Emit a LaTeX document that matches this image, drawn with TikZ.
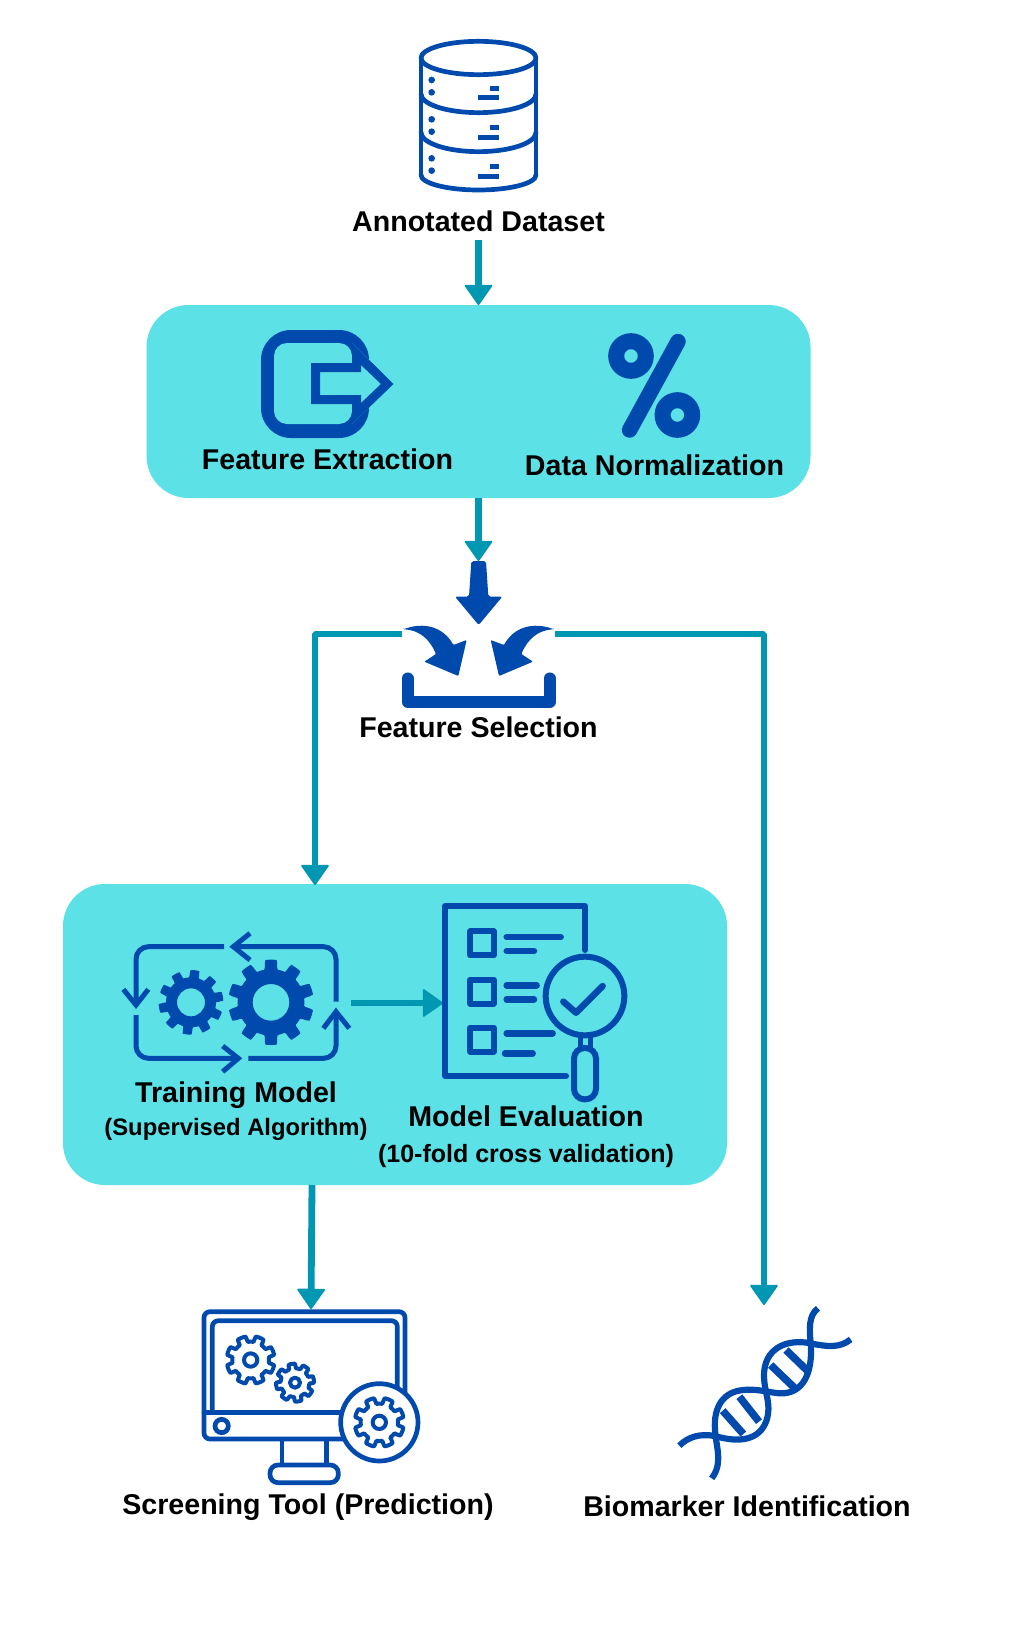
\documentclass[tikz,border=0pt]{standalone}
\usepackage{fontspec}
\setmainfont{Liberation Sans}
\usetikzlibrary{arrows.meta,calc}
\definecolor{panelc}{HTML}{5CE1E6}
\definecolor{tealc}{HTML}{0097B2}
\definecolor{bluec}{HTML}{004AAD}
\tikzset{
  panel/.style={fill=panelc,rounded corners=42pt,inner sep=0pt,outer sep=0pt},
  lbl/.style={anchor=base,inner sep=0pt,outer sep=0pt,font=\bfseries\fontsize{28.6}{32}\selectfont,text=black},
  sublbl/.style={anchor=base,inner sep=0pt,outer sep=0pt,font=\bfseries\fontsize{23.8}{28}\selectfont,text=black},
  conn/.style={draw=tealc,line width=6.8pt,line join=bevel,-{Triangle[round,length=21pt,width=29pt,line width=2pt]}},
  ico/.style={draw=bluec,line cap=round,line join=round},
  zoomA/.style={shift={(340,20)},x=1/3*1pt,y=-1/3*1pt},
  zoomB/.style={shift={(300,490)},x=1/3*1pt,y=-1/3*1pt},
  zoomBm/.style={shift={(657.33,490)},x=-1/3*1pt,y=-1/3*1pt},
  zoomC/.style={shift={(90,890)},x=1/3*1pt,y=-1/3*1pt},
  zoomD/.style={shift={(370,890)},x=1/3*1pt,y=-1/3*1pt},
  zoomE/.style={shift={(180,1290)},x=1/3*1pt,y=-1/3*1pt},
  zoomF/.style={shift={(660,1280)},x=1/3*1pt,y=-1/3*1pt},
}
\newcommand\mygear[8]{%
  \draw[#1,declare function={gp(\t)=abs(2*(mod(\t+#7+3600,360/#6)/(360/#6))-1);
      gr(\t)=#5+(#4-#5)*min(1,max(0,(gp(\t)-0.4)/0.15));}]
    plot[variable=\t,domain=0:360,samples=241] ({#2+gr(\t)*cos(\t)},{#3+gr(\t)*sin(\t)}) -- cycle
    (#2,#3) circle[radius=#8];
}
\newcommand\dbband[2]{%
  \draw[ico,line width=4.7pt] (243,#1) .. controls (243,#1+0.552*#2) and (320.3,#1+#2) .. (415.5,#1+#2) .. controls (510.7,#1+#2) and (588,#1+0.552*#2) .. (588,#1);
}
\begin{document}
\begin{tikzpicture}[x=1pt,y=-1pt]
\useasboundingbox (0,0) rectangle (1026,1640);
\fill[white] (0,0) rectangle (1026,1640);

% panels
\node[panel,minimum width=664pt,minimum height=193pt] (panelA) at (478.5,401.5) {};
\node[panel,minimum width=664pt,minimum height=301pt] (panelB) at (395,1034.5) {};

% labels
\node[lbl] (lblDataset) at (478.5,231) {Annotated Dataset};
\node[lbl] (lblExtract) at (327.5,469) {Feature Extraction};
\node[lbl] (lblNorm) at (654.5,475) {Data Normalization};
\node[lbl] (lblSelect) at (478.5,737) {Feature Selection};
\node[lbl] (lblTrain) at (236,1102) {Training Model};
\node[sublbl] (lblSuper) at (236,1135.5) {(Supervised Algorithm)};
\node[lbl] (lblEval) at (526,1126) {Model Evaluation};
\node[sublbl,font=\bfseries\fontsize{25}{28}\selectfont] (lblCross) at (526,1162) {(10-fold cross validation)};
\node[lbl] (lblScreen) at (308,1514) {Screening Tool (Prediction)};
\node[lbl] (lblBio) at (747,1516.5) {Biomarker Identification};

% connector ends
\coordinate (selectIn) at (478.5,561);
\coordinate (selectL) at (402,634);
\coordinate (selectR) at (555,634);
\coordinate (trainIn) at (315,885);
\coordinate (bioIn) at (764,1305);
\coordinate (trainOut) at (351,1003);
\coordinate (evalIn) at (443,1003);
\coordinate (panelOut) at (312,1185);
\coordinate (screenIn) at (311,1309);

\draw[conn] (lblDataset.south |- 0,240) -- (panelA.north);
\draw[conn] (panelA.south) -- (selectIn);
\draw[conn] (selectL) -| (trainIn);
\draw[conn] (selectR) -| (bioIn);
\draw[conn] (trainOut) -- (evalIn);
\draw[conn] (panelOut) -- (screenIn);

% database icon
\begin{scope}[zoomA]
  \draw[ico,line width=4.7pt] (415.5,114) ellipse[x radius=172.5,y radius=50];
  \draw[ico,line width=4.7pt] (243,114) -- (243,465);
  \draw[ico,line width=4.7pt] (588,114) -- (588,465);
  \dbband{222}{56}
  \dbband{337}{58}
  \dbband{465}{45}
  \foreach \dy in {0,118,235}{
    \fill[bluec] (275,180+\dy) circle[radius=10];
    \fill[bluec] (275,217+\dy) circle[radius=10];
    \fill[bluec] (450,198+\dy) rectangle (477,213+\dy);
    \fill[bluec] (415,226+\dy) rectangle (477,241+\dy);
  }
\end{scope}

% feature extraction icon
\fill[bluec] (261,330) [rounded corners=30pt] rectangle (369,438);
\fill[panelc] (274,343) [rounded corners=13pt] rectangle (352,424);
\fill[panelc] (311,363) -- (352,363) -- (352,343) -- (393.5,384) -- (352,424) -- (352,404) -- (311,404) -- cycle;
\fill[bluec,even odd rule] (311,363) -- (352,363) -- (352,343) -- (393.5,384) -- (352,424) -- (352,404) -- (311,404) -- cycle
  (320,372) -- (361,372) -- (361,365) -- (381,384) -- (361,403) -- (361,395) -- (320,395) -- cycle;

% percent icon
\draw[bluec,line width=16pt] (631,356) circle[radius=14.8];
\draw[bluec,line width=16pt] (677.4,415) circle[radius=14.8];
\draw[bluec,line width=15.5pt,line cap=round] (678,341.5) -- (629.6,430);

% feature selection icon
\begin{scope}[zoomB]
  \fill[bluec,rounded corners=2pt] (514,213) -- (558,213) -- (565,320) -- (607,320) -- (536,405) -- (465,320) -- (507,320) -- cycle;
  \fill[bluec,rounded corners=1pt] (310,418) .. controls (370,395) and (430,410) .. (460,465) -- (500,450) -- (475,558) -- (373,515) -- (408,492) .. controls (390,450) and (360,420) .. (310,418) -- cycle;
  \draw[ico,line width=11.7pt] (323,565) -- (323,636) -- (749,636) -- (749,565);
\end{scope}
\begin{scope}[zoomBm]
  \fill[bluec,rounded corners=1pt] (310,418) .. controls (370,395) and (430,410) .. (460,465) -- (500,450) -- (475,558) -- (373,515) -- (408,492) .. controls (390,450) and (360,420) .. (310,418) -- cycle;
\end{scope}

% training icon
\begin{scope}[zoomC]
  \mygear{fill=bluec,even odd rule,draw=none}{543}{337}{128}{100}{10}{18}{55}
  \mygear{fill=bluec,even odd rule,draw=none}{303}{337}{97}{75}{10}{11}{42}
  \begin{scope}[line width=5pt]
    \draw[bluec,rounded corners=12.5pt] (402,170) -- (138,170) -- (138,345);
    \draw[bluec] (100,298) -- (138,345) -- (175,298);
    \draw[bluec,rounded corners=12.5pt] (138,375) -- (138,505) -- (445,505);
    \draw[bluec] (398,468) -- (445,505) -- (398,545);
    \draw[bluec,rounded corners=12.5pt] (475,505) -- (738,505) -- (738,365);
    \draw[bluec] (700,415) -- (738,365) -- (778,415);
    \draw[bluec,rounded corners=12.5pt] (738,335) -- (738,170) -- (430,170);
    \draw[bluec] (480,130) -- (430,170) -- (480,210);
  \end{scope}
\end{scope}

% evaluation icon
\begin{scope}[zoomD]
  \draw[ico,line width=6pt] (645,180) -- (645,48) -- (226,48) -- (226,558) -- (588,558);
  \foreach \yy in {124,269,413}{
    \draw[ico,line width=6pt] (301,\yy) rectangle (371,\yy+72);
  }
  \draw[ico,line width=6.5pt] (410,141) -- (572,141);
  \draw[ico,line width=6.5pt] (410,183) -- (492,183);
  \draw[ico,line width=6.5pt] (410,286) -- (500,286);
  \draw[ico,line width=6.5pt] (410,328) -- (492,328);
  \draw[ico,line width=6.5pt] (410,430) -- (548,430);
  \draw[ico,line width=6.5pt] (405,490) -- (488,490);
  \draw[bluec,line width=6pt] (645,318) circle[radius=118];
  \draw[ico,line width=6.5pt] (580,335) -- (618,368) -- (698,288);
  \draw[bluec,line width=5pt] (630,436) -- (630,474) (660,436) -- (660,474);
  \draw[bluec,line width=6pt,rounded corners=10.5pt] (612,474) rectangle (678,628);
\end{scope}

% screening icon
\begin{scope}[zoomE]
  \draw[ico,line width=4.7pt,rounded corners=6pt] (490,447) -- (72,447) -- (72,65) -- (675,65) -- (675,320);
  \draw[ico,line width=4.7pt,rounded corners=6pt] (97,367) -- (97,92) -- (652,92) -- (652,310);
  \draw[ico,line width=4.7pt] (72,367) -- (490,367);
  \draw[bluec,line width=4.7pt] (125,408) circle[radius=20];
  \draw[bluec,line width=4.7pt] (306,450) -- (306,525) (440,450) -- (440,525);
  \draw[bluec,line width=4.7pt,rounded corners=8pt] (270,525) rectangle (475,578);
  \mygear{draw=bluec,line width=4pt,line join=round}{212}{210}{72}{55}{8}{22.5}{20}
  \mygear{draw=bluec,line width=4pt,line join=round}{345}{278}{57}{43}{8}{10}{15}
  \draw[bluec,fill=white,line width=4.7pt] (598,397) circle[radius=116];
  \mygear{draw=bluec,line width=4pt,line join=round}{598}{397}{74}{56}{8}{22.5}{20}
\end{scope}

% dna icon
\begin{scope}[zoomF]
  \begin{scope}[line width=6.2pt]
    \draw[bluec] (474,85) .. controls (445,105) and (448,150) .. (452,190) .. controls (458,260) and (440,335) .. (370,340) .. controls (340,342) and (300,325) .. (250,330) .. controls (190,335) and (160,380) .. (165,450) .. controls (168,500) and (190,550) .. (155,595);
    \draw[bluec] (572,178) .. controls (540,205) and (500,200) .. (452,190) .. controls (380,175) and (310,205) .. (312,290) .. controls (314,345) and (335,370) .. (320,420) .. controls (300,480) and (240,490) .. (165,468) .. controls (120,460) and (85,470) .. (58,497);
  \end{scope}
  \begin{scope}[line width=7.5pt]
    \draw[bluec] (378,210) -- (442,272);
    \draw[bluec] (332,255) -- (405,325);
    \draw[bluec] (238,350) -- (297,425);
    \draw[bluec] (188,392) -- (250,462);
  \end{scope}
\end{scope}
\end{tikzpicture}
\end{document}
